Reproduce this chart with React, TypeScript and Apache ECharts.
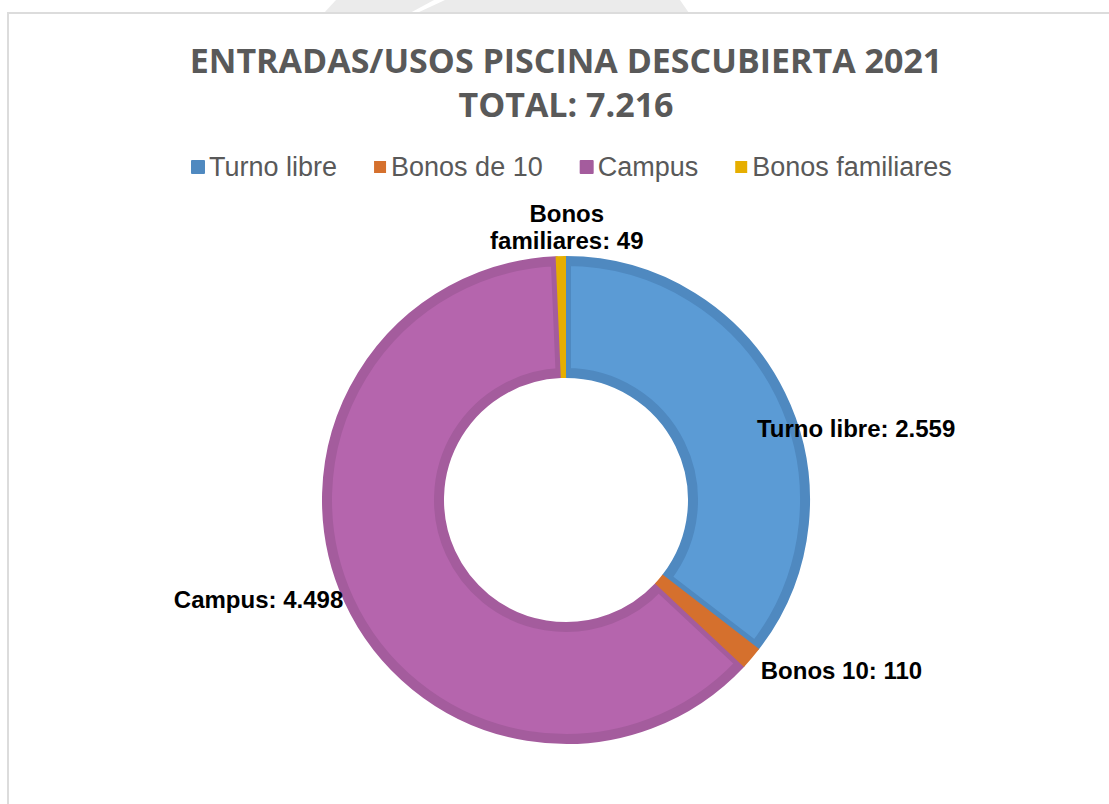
import React, { useEffect, useRef } from "react";
import * as echarts from "echarts";

const categories = ["Turno libre", "Bonos de 10", "Campus", "Bonos familiares"];
const labelNames = ["Turno libre", "Bonos 10", "Campus", "Bonos\nfamiliares"];
const values = [2559, 110, 4498, 49];
const titleLines = ["ENTRADAS/USOS PISCINA DESCUBIERTA 2021", "TOTAL: 7.216"];

const fillColors = ["#5B9BD5", "#D5702D", "#B565AD", "#E6AE00"];
const edgeColors = ["#4F89C0", "#D5702D", "#A45C9D", "#E6AE00"];
const hasEdge = [true, false, true, false];

const fmt = (v: number) => String(v).replace(/\B(?=(\d{3})+(?!\d))/g, ".");

export default function App() {
  const ref = useRef<HTMLDivElement>(null);
  useEffect(() => {
    if (!ref.current) return;
    const chart = echarts.init(ref.current, undefined, { renderer: "svg" });
    const labelShift: Record<number, any> = {
      0: { dx: -33, dy: 36 },
      1: { dx: 4, dy: 12 },
      2: { dx: 4, dy: -2 },
      3: { dx: 11, dy: -29, align: "center" },
    };
    chart.setOption({
      animation: false,
      backgroundColor: "#ffffff",
      title: {
        text: titleLines.join("\n"),
        left: 566,
        textAlign: "center",
        top: 38,
        padding: 0,
        textStyle: {
          fontFamily: "Open Sans",
          fontWeight: "bold",
          fontSize: 34,
          lineHeight: 44,
          color: "#595959",
        },
      },
      legend: {
        left: 191,
        top: 152,
        padding: 0,
        itemWidth: 12,
        itemHeight: 12,
        itemGap: 37,
        icon: "rect",
        selectedMode: false,
        textStyle: {
          fontFamily: "Liberation Sans, Arial, sans-serif",
          fontSize: 27,
          lineHeight: 30,
          color: "#595959",
        },
        data: categories.map((c, i) => ({
          name: c,
          itemStyle: { color: edgeColors[i] },
        })),
      },
      graphic: [
        {
          type: "polygon",
          silent: true,
          shape: { points: [[324, 13], [336, 0], [434, 0], [410, 13]] },
          style: { fill: "#ebebeb" },
        },
        {
          type: "polygon",
          silent: true,
          shape: { points: [[417, 13], [445, 0], [680, 0], [689, 13]] },
          style: { fill: "#ebebeb" },
        },
        {
          type: "rect",
          silent: true,
          shape: { x: 8, y: 13, width: 1300, height: 1000 },
          style: { fill: "none", stroke: "#dcdcdc", lineWidth: 2 },
        },
      ],
      series: [
        {
          type: "pie",
          center: [566, 500],
          radius: [127, 239],
          silent: true,
          label: { show: false },
          labelLine: { show: false },
          emphasis: { disabled: true },
          data: categories.map((c, i) => ({
            name: c,
            value: values[i],
            itemStyle: hasEdge[i]
              ? { color: fillColors[i], borderColor: edgeColors[i], borderWidth: 10 }
              : { color: "rgba(0,0,0,0)", borderWidth: 0 },
          })),
        },
        {
          type: "pie",
          center: [566, 500],
          radius: [122, 244],
          silent: true,
          emphasis: { disabled: true },
          avoidLabelOverlap: false,
          label: {
            show: true,
            position: "outside",
            fontFamily: "Liberation Sans, Arial, sans-serif",
            fontWeight: "bold",
            fontSize: 24,
            lineHeight: 27,
            color: "#000000",
            formatter: (p: any) => `${labelNames[p.dataIndex]}: ${fmt(p.value)}`,
          },
          labelLine: { show: false, length: 0, length2: 0 },
          labelLayout: (p: any) => labelShift[p.dataIndex] || {},
          data: categories.map((c, i) => ({
            name: c,
            value: values[i],
            itemStyle: hasEdge[i]
              ? { color: "rgba(0,0,0,0)", borderWidth: 0 }
              : { color: fillColors[i], borderWidth: 0 },
          })),
        },
      ],
    });
    return () => chart.dispose();
  }, []);
  return (
    <div
      ref={ref}
      style={{ position: "absolute", left: 0, top: 0, width: 1109, height: 804 }}
    />
  );
}
